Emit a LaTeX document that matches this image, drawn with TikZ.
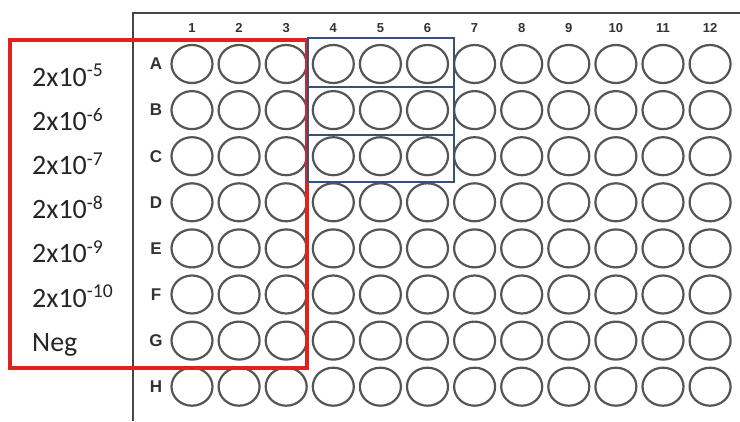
\documentclass[tikz,border=0pt]{standalone}
\usepackage{fontspec}
\setmainfont{Carlito}
\newfontfamily\platefont{Liberation Sans}
\usetikzlibrary{shapes.geometric}
\definecolor{wellgray}{RGB}{85,85,85}
\definecolor{framegray}{RGB}{70,70,70}
\definecolor{labgray}{RGB}{50,50,50}
\definecolor{redbox}{RGB}{226,32,30}
\definecolor{bluebox}{RGB}{52,82,122}
\begin{document}
\begin{tikzpicture}[x=1pt,y=-1pt,
  well/.style={ellipse, draw=wellgray, line width=2.2pt, minimum width=41pt, minimum height=38pt, inner sep=0pt},
  collab/.style={font=\platefont\bfseries\fontsize{13}{13}\selectfont, text=labgray, inner sep=0pt},
  rowlab/.style={font=\platefont\bfseries\fontsize{17}{17}\selectfont, text=labgray, inner sep=0pt},
  conclab/.style={font=\fontsize{28}{28}\selectfont, text=black!85, anchor=base west, inner sep=0pt},
  redframe/.style={draw=redbox, line width=3.2pt},
  blueframe/.style={draw=bluebox, line width=2.8pt},
  plateedge/.style={draw=framegray, line width=1.5pt}]
\useasboundingbox[fill=white] (0,0) rectangle (740,421);
% plate edges
\coordinate (pTR) at (740,13);
\coordinate (pTL) at (133,13);
\coordinate (pBL) at (133,421);
\draw[plateedge] (pTR) -- (pTL) -- (pBL);
% column labels
\foreach \c in {1,...,12}{
  \node[collab] (col\c) at ({192+47.1*(\c-1)},28) {\c};
}
% wells and row labels
\foreach \r [count=\i] in {A,B,C,D,E,F,G,H}{
  \node[rowlab] (row\r) at (156,{64+46.1*(\i-1)}) {\r};
  \foreach \c in {1,...,12}{
    \node[well] (w\r\c) at ({192+47.1*(\c-1)},{64+46.1*(\i-1)}) {};
  }
}
% concentration labels
\node[conclab] (l5) at (32,86) {2x10\textsuperscript{-5}};
\node[conclab] (l6) at (32,130.2) {2x10\textsuperscript{-6}};
\node[conclab] (l7) at (32,174.4) {2x10\textsuperscript{-7}};
\node[conclab] (l8) at (32,218.6) {2x10\textsuperscript{-8}};
\node[conclab] (l9) at (32,262.8) {2x10\textsuperscript{-9}};
\node[conclab] (l10) at (32,307) {2x10\textsuperscript{-10}};
\node[conclab] (lneg) at (32,351) {Neg};
% boxes
\draw[redframe] (10,40) rectangle (307,368);
\draw[blueframe] (308,38) rectangle (454,87);
\draw[blueframe] (308,87) rectangle (454,135);
\draw[blueframe] (308,135) rectangle (454,182);
\end{tikzpicture}
\end{document}
